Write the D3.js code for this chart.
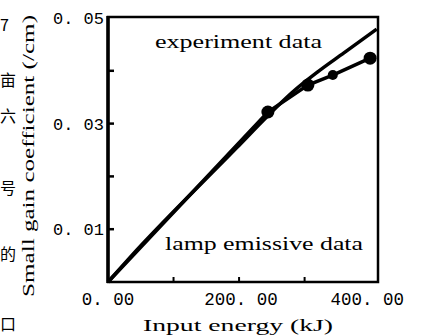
<!DOCTYPE html>
<html lang="en">
<head>
  <meta charset="utf-8">
  <title>Small gain coefficient vs input energy</title>
  <script src="https://d3js.org/d3.v7.min.js"></script>
  <style>
    body { margin: 0; background: #fff; }
    svg { display: block; }
  </style>
</head>
<body>
  <svg width="422" height="336"></svg>
  <script>
    // lamp emissive data (smooth curve)
    const lampEnergy = [0, 34, 197, 244, 280, 320, 360, 410];
    const lampGain = [0, 0.0047, 0.0255, 0.0315, 0.0358, 0.0398, 0.0434, 0.0479];

    // experiment data (line with dots)
    const expEnergy = [0, 244, 305, 343, 400];
    const expGain = [0, 0.0322, 0.0373, 0.0392, 0.0424];
    const expDot = [false, true, true, true, true];

    const xTickValues = [0, 200, 400];
    const xTickLabels = ["0. 00", "200. 00", "400. 00"];
    const xMinorTicks = [100, 200, 300];
    const yTickValues = [0.01, 0.03, 0.05];
    const yTickLabels = ["0. 01", "0. 03", "0. 05"];
    const yMinorTicks = [0.01, 0.02, 0.03, 0.04];

    // bits of the page text at the left edge
    const edgeChars = ["7", "亩", "六", "号", "的", "口"];
    const edgeCharY = [31, 86, 122, 194, 260, 330];

    const svg = d3.select("svg");
    const x = d3.scaleLinear().domain([0, 412]).range([108, 378]);
    const y = d3.scaleLinear().domain([0, 0.05]).range([282, 18]);

    const serif = "'Liberation Serif', 'DejaVu Serif', serif";
    const mono = "'Liberation Mono', 'DejaVu Sans Mono', monospace";

    // frame
    svg.append("rect")
      .attr("x", x(0)).attr("y", y(0.05) - 1)
      .attr("width", x(412) - x(0)).attr("height", y(0) - y(0.05) + 1)
      .attr("fill", "none").attr("stroke", "#000").attr("stroke-width", 2.5);
    svg.append("line")
      .attr("x1", x(0)).attr("x2", x(0)).attr("y1", y(0.05) - 2).attr("y2", y(0) + 1)
      .attr("stroke", "#000").attr("stroke-width", 3.5);

    // inward ticks
    svg.selectAll(".ytick").data(yMinorTicks).join("line")
      .attr("x1", x(0)).attr("x2", x(0) + 6)
      .attr("y1", d => y(d)).attr("y2", d => y(d))
      .attr("stroke", "#000").attr("stroke-width", 2.5);
    svg.selectAll(".xtick").data(xMinorTicks).join("line")
      .attr("x1", d => x(d)).attr("x2", d => x(d))
      .attr("y1", y(0)).attr("y2", y(0) - 5)
      .attr("stroke", "#000").attr("stroke-width", 2);

    // tick labels
    svg.selectAll(".ylab").data(yTickValues).join("text")
      .attr("x", 104).attr("y", d => y(d) + 6)
      .attr("text-anchor", "end")
      .attr("font-family", mono).attr("font-size", 17)
      .text((d, i) => yTickLabels[i]);
    svg.selectAll(".xlab").data(xTickValues).join("text")
      .attr("x", (d, i) => i === 0 ? x(d) : x(d) + (i === 2 ? -3 : 2))
      .attr("y", 305)
      .attr("text-anchor", "middle")
      .attr("font-family", mono).attr("font-size", 17.5)
      .text((d, i) => xTickLabels[i]);

    // axis titles
    svg.append("text")
      .attr("x", 143).attr("y", 331)
      .attr("font-family", serif).attr("font-size", 16)
      .attr("textLength", 190).attr("lengthAdjust", "spacingAndGlyphs")
      .text("Input energy (kJ)");
    svg.append("text")
      .attr("transform", "translate(34,297) rotate(-90)")
      .attr("font-family", serif).attr("font-size", 16)
      .attr("textLength", 282).attr("lengthAdjust", "spacingAndGlyphs")
      .text("Small gain coefficient (/cm)");

    // curves
    const lampPts = lampEnergy.map((e, i) => [e, lampGain[i]]);
    const expPts = expEnergy.map((e, i) => [e, expGain[i]]);
    const smooth = d3.line().x(d => x(d[0])).y(d => y(d[1])).curve(d3.curveMonotoneX);
    const straight = d3.line().x(d => x(d[0])).y(d => y(d[1]));

    svg.append("path").attr("d", smooth(lampPts))
      .attr("fill", "none").attr("stroke", "#000").attr("stroke-width", 3.5);
    svg.append("path").attr("d", straight(expPts))
      .attr("fill", "none").attr("stroke", "#000").attr("stroke-width", 3.5);
    svg.selectAll(".dot").data(expPts.filter((d, i) => expDot[i])).join("circle")
      .attr("cx", d => x(d[0])).attr("cy", d => y(d[1]))
      .attr("r", (d, i) => i === 2 ? 5 : 6.5)
      .attr("fill", "#000");

    // annotations
    svg.append("text")
      .attr("x", 155).attr("y", 48)
      .attr("font-family", serif).attr("font-size", 18)
      .attr("textLength", 167).attr("lengthAdjust", "spacingAndGlyphs")
      .text("experiment data");
    svg.append("text")
      .attr("x", 165).attr("y", 250)
      .attr("font-family", serif).attr("font-size", 18)
      .attr("textLength", 198).attr("lengthAdjust", "spacingAndGlyphs")
      .text("lamp emissive data");

    // page text at left
    svg.selectAll(".edge").data(edgeChars).join("text")
      .attr("x", 0).attr("y", (d, i) => edgeCharY[i])
      .attr("font-family", "'Noto Sans CJK SC', sans-serif").attr("font-size", 16)
      .text(d => d);
  </script>
</body>
</html>
